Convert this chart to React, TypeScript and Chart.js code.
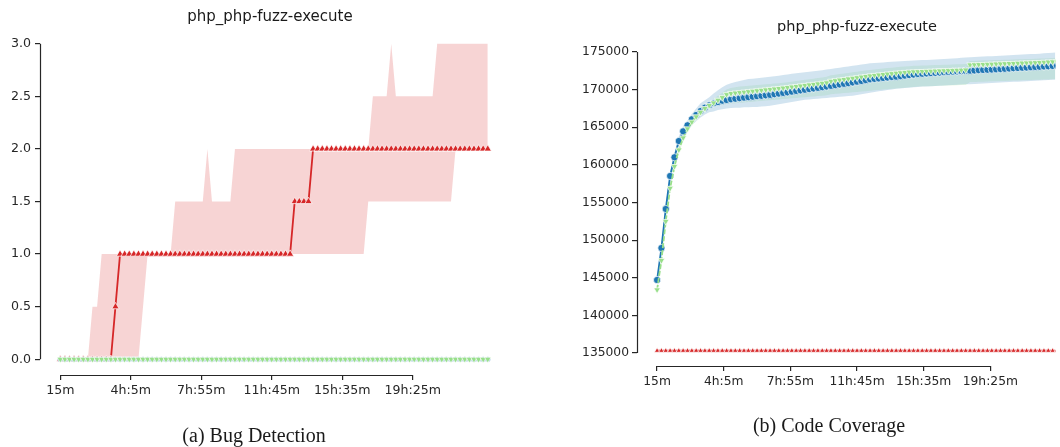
import React, { useEffect, useRef } from "react";
import { Chart, registerables } from "chart.js";
Chart.register(...registerables);

// ---------- shared x grid (minutes) and tick labels ----------
const timeMinutes = [
  15, 30, 45, 60, 75, 90, 105, 120, 135, 150,
  165, 180, 195, 210, 225, 240, 255, 270, 285, 300,
  315, 330, 345, 360, 375, 390, 405, 420, 435, 450,
  465, 480, 495, 510, 525, 540, 555, 570, 585, 600,
  615, 630, 645, 660, 675, 690, 705, 720, 735, 750,
  765, 780, 795, 810, 825, 840, 855, 870, 885, 900,
  915, 930, 945, 960, 975, 990, 1005, 1020, 1035, 1050,
  1065, 1080, 1095, 1110, 1125, 1140, 1155, 1170, 1185, 1200,
  1215, 1230, 1245, 1260, 1275, 1290, 1305, 1320, 1335, 1350,
  1365, 1380, 1395, 1410,
];
const xTickMinutes = [15, 245, 475, 705, 935, 1165];
const xTickLabels = ["15m", "4h:5m", "7h:55m", "11h:45m", "15h:35m", "19h:25m"];

// ---------- (a) Bug Detection ----------
const bugTicks = [0, 0.5, 1, 1.5, 2, 2.5, 3];
const bugGreen = [
  0, 0, 0, 0, 0, 0, 0, 0, 0, 0, 0, 0, 0, 0, 0, 0, 0, 0, 0, 0,
  0, 0, 0, 0, 0, 0, 0, 0, 0, 0, 0, 0, 0, 0, 0, 0, 0, 0, 0, 0,
  0, 0, 0, 0, 0, 0, 0, 0, 0, 0, 0, 0, 0, 0, 0, 0, 0, 0, 0, 0,
  0, 0, 0, 0, 0, 0, 0, 0, 0, 0, 0, 0, 0, 0, 0, 0, 0, 0, 0, 0,
  0, 0, 0, 0, 0, 0, 0, 0, 0, 0, 0, 0, 0, 0,
];
const bugBlue = [
  0, 0, 0, 0, 0, 0, 0, 0, 0, 0, 0, 0, 0, 0, 0, 0, 0, 0, 0, 0,
  0, 0, 0, 0, 0, 0, 0, 0, 0, 0, 0, 0, 0, 0, 0, 0, 0, 0, 0, 0,
  0, 0, 0, 0, 0, 0, 0, 0, 0, 0, 0, 0, 0, 0, 0, 0, 0, 0, 0, 0,
  0, 0, 0, 0, 0, 0, 0, 0, 0, 0, 0, 0, 0, 0, 0, 0, 0, 0, 0, 0,
  0, 0, 0, 0, 0, 0, 0, 0, 0, 0, 0, 0, 0, 0,
];
const bugRed = [
  0, 0, 0, 0, 0, 0, 0, 0, 0, 0,
  0, 0, 0.5, 1, 1, 1, 1, 1, 1, 1,
  1, 1, 1, 1, 1, 1, 1, 1, 1, 1,
  1, 1, 1, 1, 1, 1, 1, 1, 1, 1,
  1, 1, 1, 1, 1, 1, 1, 1, 1, 1,
  1, 1.5, 1.5, 1.5, 1.5, 2, 2, 2, 2, 2,
  2, 2, 2, 2, 2, 2, 2, 2, 2, 2,
  2, 2, 2, 2, 2, 2, 2, 2, 2, 2,
  2, 2, 2, 2, 2, 2, 2, 2, 2, 2,
  2, 2, 2, 2,
];
const bugRedUpper = [
  0, 0, 0, 0, 0, 0, 0, 0.5, 0.5, 1,
  1, 1, 1, 1, 1, 1, 1, 1, 1, 1,
  1, 1, 1, 1, 1, 1.5, 1.5, 1.5, 1.5, 1.5,
  1.5, 1.5, 2, 1.5, 1.5, 1.5, 1.5, 1.5, 2, 2,
  2, 2, 2, 2, 2, 2, 2, 2, 2, 2,
  2, 2, 2, 2, 2, 2, 2, 2, 2, 2,
  2, 2, 2, 2, 2, 2, 2, 2, 2.5, 2.5,
  2.5, 2.5, 3, 2.5, 2.5, 2.5, 2.5, 2.5, 2.5, 2.5,
  2.5, 2.5, 3, 3, 3, 3, 3, 3, 3, 3,
  3, 3, 3, 3,
];
const bugRedLower = [
  0, 0, 0, 0, 0, 0, 0, 0, 0, 0,
  0, 0, 0, 0, 0, 0, 0, 0, 0.5, 1,
  1, 1, 1, 1, 1, 1, 1, 1, 1, 1,
  1, 1, 1, 1, 1, 1, 1, 1, 1, 1,
  1, 1, 1, 1, 1, 1, 1, 1, 1, 1,
  1, 1, 1, 1, 1, 1, 1, 1, 1, 1,
  1, 1, 1, 1, 1, 1, 1, 1.5, 1.5, 1.5,
  1.5, 1.5, 1.5, 1.5, 1.5, 1.5, 1.5, 1.5, 1.5, 1.5,
  1.5, 1.5, 1.5, 1.5, 1.5, 1.5, 2, 2, 2, 2,
  2, 2, 2, 2,
];

// ---------- (b) Code Coverage ----------
const covTicks = [135000, 140000, 145000, 150000, 155000, 160000, 165000, 170000, 175000];
const covBlue = [
  144700, 148950, 154140, 158520, 161010, 163170, 164460, 165260, 166060, 166630,
  167160, 167600, 167920, 168180, 168350, 168530, 168620, 168710, 168790, 168860,
  168930, 169000, 169060, 169120, 169180, 169240, 169300, 169390, 169470, 169560,
  169640, 169730, 169820, 169900, 169980, 170070, 170150, 170230, 170320, 170410,
  170500, 170590, 170680, 170770, 170860, 170950, 171050, 171150, 171260, 171370,
  171430, 171490, 171550, 171610, 171670, 171720, 171790, 171860, 171930, 172000,
  172070, 172110, 172150, 172190, 172230, 172270, 172310, 172350, 172390, 172420,
  172460, 172490, 172520, 172550, 172580, 172610, 172640, 172670, 172700, 172730,
  172770, 172800, 172840, 172870, 172910, 172940, 172970, 173010, 173040, 173070,
  173100, 173140, 173170, 173200,
];
const covBlueUpper = [
  145200, 149500, 154700, 159100, 161600, 163800, 165100, 165900, 166800, 167500,
  168200, 168600, 169000, 169500, 169900, 170300, 170650, 170850, 171000, 171150,
  171280, 171400, 171460, 171520, 171580, 171640, 171700, 171780, 171860, 171940,
  172020, 172100, 172170, 172240, 172310, 172380, 172450, 172520, 172590, 172660,
  172740, 172830, 172910, 173000, 173080, 173170, 173250, 173340, 173420, 173500,
  173540, 173580, 173620, 173660, 173700, 173740, 173780, 173800, 173830, 173860,
  173890, 173920, 173950, 173980, 174010, 174040, 174070, 174100, 174140, 174180,
  174220, 174260, 174300, 174330, 174360, 174390, 174420, 174450, 174480, 174510,
  174540, 174570, 174600, 174630, 174660, 174690, 174720, 174750, 174780, 174820,
  174860, 174900, 174930, 174960,
];
const covBlueLower = [
  144200, 148400, 153600, 158000, 160400, 162500, 163800, 164600, 165300, 165800,
  166300, 166700, 167000, 167100, 167300, 167400, 167500, 167550, 167600, 167600,
  167650, 167650, 167700, 167700, 167750, 167800, 167850, 167950, 168050, 168150,
  168250, 168350, 168450, 168550, 168650, 168700, 168750, 168800, 168850, 168900,
  168950, 169000, 169050, 169100, 169150, 169200, 169300, 169400, 169500, 169600,
  169700, 169780, 169860, 169940, 170020, 170100, 170150, 170200, 170250, 170300,
  170350, 170400, 170430, 170460, 170490, 170520, 170550, 170580, 170610, 170640,
  170670, 170700, 170730, 170760, 170790, 170820, 170850, 170880, 170910, 170940,
  170970, 171000, 171030, 171060, 171090, 171120, 171150, 171180, 171210, 171240,
  171270, 171300, 171330, 171360,
];
const covGreen = [
  143400, 147300, 152500, 156900, 159800, 162000, 163600, 164800, 165700, 166400,
  167000, 167500, 167900, 168250, 168600, 168950, 169350, 169500, 169560, 169620,
  169680, 169740, 169800, 169860, 169920, 169980, 170040, 170100, 170160, 170220,
  170290, 170360, 170430, 170500, 170570, 170640, 170710, 170780, 170850, 170920,
  171120, 171200, 171280, 171360, 171440, 171520, 171600, 171680, 171760, 171840,
  171900, 171960, 172020, 172080, 172140, 172200, 172250, 172300, 172340, 172380,
  172400, 172420, 172440, 172460, 172480, 172500, 172520, 172540, 172560, 172580,
  172600, 172620, 173300, 173320, 173340, 173360, 173380, 173400, 173420, 173440,
  173460, 173480, 173500, 173520, 173540, 173560, 173580, 173600, 173620, 173650,
  173680, 173710, 173740, 173770,
];
const covGreenUpper = [
  143800, 147800, 153000, 157400, 160300, 162500, 164100, 165300, 166200, 166900,
  167500, 168000, 168400, 168800, 169200, 169600, 170000, 170200, 170300, 170400,
  170450, 170500, 170550, 170600, 170650, 170700, 170750, 170800, 170850, 170900,
  170980, 171060, 171140, 171220, 171300, 171380, 171460, 171540, 171620, 171700,
  171900, 171980, 172060, 172140, 172220, 172300, 172380, 172460, 172540, 172620,
  172680, 172740, 172800, 172860, 172920, 172980, 173030, 173080, 173120, 173160,
  173180, 173200, 173220, 173240, 173260, 173280, 173300, 173320, 173340, 173360,
  173380, 173400, 173800, 173820, 173840, 173860, 173880, 173900, 173920, 173940,
  173960, 173980, 174000, 174020, 174040, 174060, 174080, 174100, 174120, 174150,
  174180, 174210, 174240, 174270,
];
const covGreenLower = [
  143000, 146800, 152000, 156400, 159300, 161500, 163100, 164300, 165200, 165900,
  166500, 167000, 167400, 167700, 167900, 168000, 168100, 168150, 168200, 168250,
  168300, 168350, 168400, 168450, 168500, 168550, 168600, 168650, 168700, 168750,
  168800, 168850, 168900, 168950, 169000, 169050, 169100, 169150, 169200, 169250,
  169400, 169450, 169500, 169550, 169600, 169650, 169700, 169750, 169800, 169850,
  169900, 169950, 170000, 170050, 170100, 170150, 170200, 170250, 170300, 170350,
  170400, 170420, 170440, 170460, 170480, 170500, 170520, 170540, 170560, 170580,
  170600, 170620, 171000, 171020, 171040, 171060, 171080, 171100, 171120, 171140,
  171160, 171180, 171200, 171220, 171240, 171260, 171280, 171300, 171320, 171340,
  171360, 171380, 171400, 171420,
];
const covRed = [
  135300, 135300, 135300, 135300, 135300, 135300, 135300, 135300, 135300, 135300,
  135300, 135300, 135300, 135300, 135300, 135300, 135300, 135300, 135300, 135300,
  135300, 135300, 135300, 135300, 135300, 135300, 135300, 135300, 135300, 135300,
  135300, 135300, 135300, 135300, 135300, 135300, 135300, 135300, 135300, 135300,
  135300, 135300, 135300, 135300, 135300, 135300, 135300, 135300, 135300, 135300,
  135300, 135300, 135300, 135300, 135300, 135300, 135300, 135300, 135300, 135300,
  135300, 135300, 135300, 135300, 135300, 135300, 135300, 135300, 135300, 135300,
  135300, 135300, 135300, 135300, 135300, 135300, 135300, 135300, 135300, 135300,
  135300, 135300, 135300, 135300, 135300, 135300, 135300, 135300, 135300, 135300,
  135300, 135300, 135300, 135300,
];

// ---------- styling ----------
const RED = "#d62728";
const BLUE = "#1f77b4";
const GREEN = "#98df8a";
const AXIS = "#262626";
const FONT = "DejaVu Sans";

const pts = (ys: number[]) => ys.map((y, i) => ({ x: timeMinutes[i], y }));

const trimSpines = {
  id: "trimSpines",
  afterDraw(chart: any) {
    const { ctx, chartArea, scales } = chart;
    const x = scales.x;
    const y = scales.y;
    const xt = x.ticks;
    const yt = y.ticks;
    ctx.save();
    ctx.strokeStyle = AXIS;
    ctx.lineWidth = 1.2;
    ctx.beginPath();
    const lx = Math.round(chartArea.left) + 0.5;
    ctx.moveTo(lx, y.getPixelForValue(yt[yt.length - 1].value));
    ctx.lineTo(lx, y.getPixelForValue(yt[0].value));
    const by = Math.round(chartArea.bottom) + 0.5;
    ctx.moveTo(x.getPixelForValue(xt[0].value), by);
    ctx.lineTo(x.getPixelForValue(xt[xt.length - 1].value), by);
    ctx.stroke();
    ctx.restore();
  },
};

function lineSet(data: number[], color: string, style: string, radius: number, extra: any = {}) {
  return {
    data: pts(data),
    borderColor: color,
    backgroundColor: color,
    pointBackgroundColor: color,
    pointBorderColor: "#ffffff",
    pointBorderWidth: 0.7,
    pointStyle: style,
    pointRadius: radius,
    borderWidth: 1.8,
    tension: 0,
    fill: false,
    ...extra,
  };
}
function bandUpper(data: number[], color: string) {
  return {
    data: pts(data),
    borderWidth: 0,
    borderColor: "rgba(0,0,0,0)",
    pointRadius: 0,
    fill: "+1",
    backgroundColor: color,
    tension: 0,
  };
}
function bandLower(data: number[]) {
  return {
    data: pts(data),
    borderWidth: 0,
    borderColor: "rgba(0,0,0,0)",
    pointRadius: 0,
    fill: false,
    tension: 0,
  };
}

function makeOptions(p: {
  xmin: number; xmax: number; ymin: number; ymax: number;
  yTicks: number[]; yFmt: (v: number) => string;
  yWidth: number; xHeight: number; padTop: number; padRight: number;
  fontSize: number; yPad: number;
}) {
  return {
    responsive: false,
    animation: false,
    devicePixelRatio: 1,
    layout: { padding: { top: p.padTop, right: p.padRight, left: 0, bottom: 0 } },
    plugins: { legend: { display: false }, tooltip: { enabled: false }, title: { display: false } },
    scales: {
      x: {
        type: "linear",
        min: p.xmin,
        max: p.xmax,
        afterBuildTicks: (scale: any) => {
          scale.ticks = xTickMinutes.map((v) => ({ value: v }));
        },
        afterFit: (scale: any) => {
          scale.height = p.xHeight;
        },
        border: { display: false },
        grid: { drawOnChartArea: false, drawTicks: true, tickLength: 5, color: AXIS, lineWidth: 1.2 },
        ticks: {
          autoSkip: false,
          maxRotation: 0,
          padding: 3,
          color: AXIS,
          font: { family: FONT, size: p.fontSize },
          callback: (_v: any, i: number) => xTickLabels[i],
        },
      },
      y: {
        type: "linear",
        min: p.ymin,
        max: p.ymax,
        afterBuildTicks: (scale: any) => {
          scale.ticks = p.yTicks.map((v) => ({ value: v }));
        },
        afterFit: (scale: any) => {
          scale.width = p.yWidth;
        },
        border: { display: false },
        grid: { drawOnChartArea: false, drawTicks: true, tickLength: 5, color: AXIS, lineWidth: 1.2 },
        ticks: {
          autoSkip: false,
          padding: p.yPad,
          color: AXIS,
          font: { family: FONT, size: p.fontSize },
          callback: (v: any) => p.yFmt(Number(v)),
        },
      },
    },
  };
}

function bugConfig(): any {
  return {
    type: "line",
    data: {
      datasets: [
        lineSet(bugGreen, GREEN, "triangle", 3.8, { pointRotation: 180, borderDash: [5, 2] }),
        lineSet(bugBlue, BLUE, "circle", 2.6),
        lineSet(bugRed, RED, "triangle", 4.2),
        bandUpper(bugRedUpper, "rgba(214,39,40,0.2)"),
        bandLower(bugRedLower),
      ],
    },
    options: makeOptions({
      xmin: -51.25, xmax: 1453.2, ymin: -0.15, ymax: 3.15,
      yTicks: bugTicks, yFmt: (v) => v.toFixed(1),
      yWidth: 40, xHeight: 72, padTop: 28, padRight: 29, fontSize: 12.6, yPad: 4,
    }),
    plugins: [trimSpines],
  };
}

function covConfig(): any {
  return {
    type: "line",
    data: {
      datasets: [
        lineSet(covGreen, GREEN, "triangle", 3.8, { pointRotation: 180, borderDash: [5, 2] }),
        lineSet(covBlue, BLUE, "circle", 3.6),
        lineSet(covRed, RED, "triangle", 3.1),
        bandUpper(covBlueUpper, "rgba(31,119,180,0.2)"),
        bandLower(covBlueLower),
        bandUpper(covGreenUpper, "rgba(152,223,138,0.2)"),
        bandLower(covGreenLower),
      ],
    },
    options: makeOptions({
      xmin: -54.27, xmax: 1389.2, ymin: 133272, ymax: 176860,
      yTicks: covTicks, yFmt: (v) => String(Math.round(v)),
      yWidth: 107, xHeight: 81, padTop: 38, padRight: 0, fontSize: 12.3, yPad: 3,
    }),
    plugins: [trimSpines],
  };
}

function ChartCanvas({ make, left, width, height }: { make: () => any; left: number; width: number; height: number }) {
  const ref = useRef<HTMLCanvasElement>(null);
  useEffect(() => {
    const chart = new Chart(ref.current as HTMLCanvasElement, make());
    return () => chart.destroy();
  }, []);
  return (
    <canvas
      ref={ref}
      width={width}
      height={height}
      style={{ position: "absolute", left, top: 0, width, height }}
    />
  );
}

const textStyle = (cx: number, cy: number, font: string, size: number): React.CSSProperties => ({
  position: "absolute",
  left: cx,
  top: cy,
  transform: "translate(-50%, -50%)",
  whiteSpace: "nowrap",
  fontFamily: font,
  fontSize: size,
  color: "#1a1a1a",
  lineHeight: 1,
});

export default function App() {
  return (
    <div style={{ position: "absolute", left: 0, top: 0, width: 1060, height: 447, background: "#fff", overflow: "hidden" }}>
      <ChartCanvas make={bugConfig} left={0} width={530} height={447} />
      <ChartCanvas make={covConfig} left={530} width={530} height={447} />
      <div style={textStyle(270, 16, FONT, 15)}>php_php-fuzz-execute</div>
      <div style={textStyle(857, 26, FONT, 14.5)}>php_php-fuzz-execute</div>
      <div style={textStyle(254, 435, "Liberation Serif", 20)}>(a) Bug Detection</div>
      <div style={textStyle(829, 425, "Liberation Serif", 20)}>(b) Code Coverage</div>
    </div>
  );
}
